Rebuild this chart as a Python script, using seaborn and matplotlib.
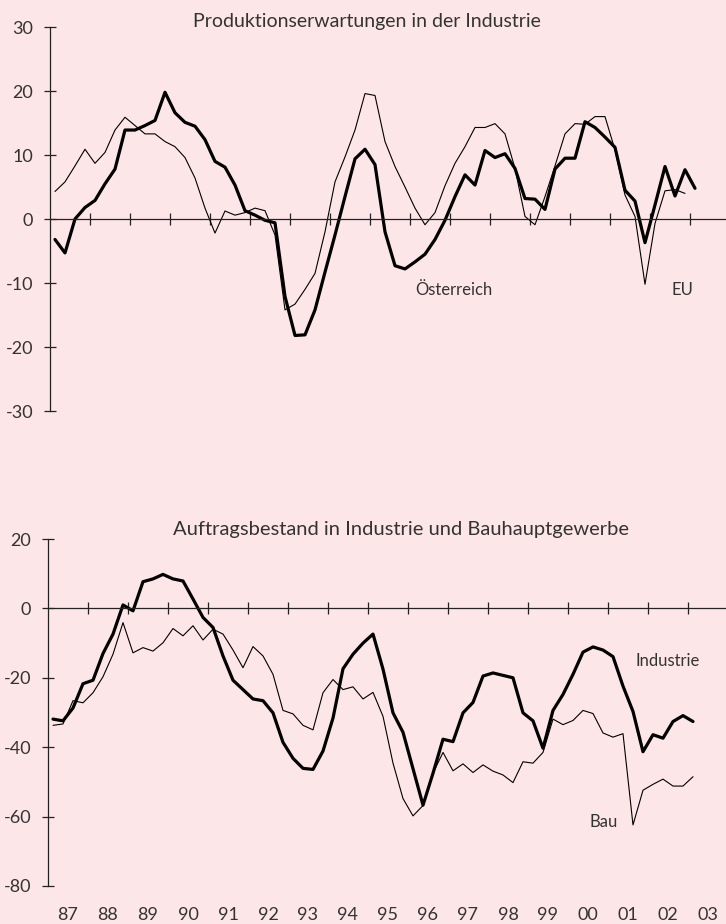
import numpy as np
import pandas as pd
import matplotlib
matplotlib.use("Agg")
import matplotlib.pyplot as plt
import matplotlib.transforms as mtrans
import seaborn as sns

# ---------------------------------------------
#  Daten (Quartalswerte ab 1987Q1)
# ---------------------------------------------
oesterreich = [
    -3.2, -5.3, 0.0, 1.8, 2.9, 5.5, 7.8, 13.9, 13.9, 14.6,
    15.4, 19.8, 16.6, 15.1, 14.5, 12.4, 9.0, 8.1, 5.3, 1.3,
    0.6, -0.2, -0.6, -12.1, -18.2, -18.1, -14.2, -8.3, -2.5, 3.5,
    9.4, 10.9, 8.5, -2.0, -7.3, -7.8, -6.7, -5.5, -3.2, -0.2,
    3.5, 6.9, 5.3, 10.7, 9.6, 10.2, 7.9, 3.2, 3.1, 1.5,
    7.8, 9.5, 9.5, 15.2, 14.3, 12.8, 11.2, 4.5, 2.8, -3.7,
    2.2, 8.2, 3.6, 7.7, 4.8,
]
eu = [
    4.3, 5.8, 8.3, 10.9, 8.7, 10.4, 13.9, 15.9, 14.6, 13.3,
    13.3, 12.1, 11.3, 9.6, 6.4, 1.7, -2.2, 1.25, 0.6, 1.0,
    1.7, 1.3, -2.5, -14.2, -13.3, -11.0, -8.5, -2.0, 5.8, 9.7,
    13.9, 19.6, 19.3, 12.1, 8.2, 5.0, 1.7, -0.9, 1.0, 5.2,
    8.7, 11.3, 14.3, 14.3, 14.9, 13.3, 7.9, 0.4, -0.9, 3.5,
    8.3, 13.3, 14.9, 14.8, 16.0, 16.0, 10.8, 3.75, 0.4, -10.2,
    -0.7, 4.4, 4.6, 4.0,
]
industrie = [
    -31.9, -32.4, -28.7, -21.7, -20.7, -13.0, -7.4, 1.0, -0.7, 7.7,
    8.5, 9.8, 8.5, 7.9, 2.7, -2.6, -5.5, -13.7, -20.7, -23.4,
    -26.1, -26.6, -30.1, -38.6, -43.2, -46.1, -46.4, -41.1, -31.6, -17.4,
    -13.2, -10.0, -7.4, -17.5, -30.1, -35.7, -46.2, -56.7, -47.5, -37.7,
    -38.4, -30.1, -27.1, -19.5, -18.6, -19.3, -20.0, -30.1, -32.4, -40.3,
    -29.4, -24.8, -19.0, -12.6, -11.1, -12.0, -13.9, -22.4, -29.7, -41.3,
    -36.4, -37.4, -32.6, -30.9, -32.6,
]
bau = [
    -33.7, -33.3, -26.6, -27.2, -24.3, -19.7, -13.2, -4.1, -12.8, -11.3,
    -12.3, -9.9, -5.8, -7.9, -5.0, -9.1, -6.0, -7.4, -12.0, -17.1,
    -11.0, -13.7, -19.0, -29.4, -30.4, -33.7, -35.0, -24.3, -20.5, -23.4,
    -22.6, -26.1, -24.2, -31.1, -44.6, -54.8, -59.8, -56.8, -47.5, -41.5,
    -46.8, -44.8, -47.3, -45.1, -46.9, -48.0, -50.2, -44.2, -44.6, -41.5,
    -31.9, -33.5, -32.3, -29.4, -30.3, -35.9, -37.1, -36.1, -62.4, -52.4,
    -50.7, -49.2, -51.2, -51.2, -48.5,
]
jahre = list(range(1987, 2004))
jahr_labels = ["87", "88", "89", "90", "91", "92", "93", "94", "95",
               "96", "97", "98", "99", "00", "01", "02", "03"]


def quartal_zeit(n):
    per = pd.period_range("1987Q1", periods=n, freq="Q")
    return per.year + (per.quarter - 0.5) / 4


df_prod = pd.DataFrame({"t": quartal_zeit(len(oesterreich)), "Österreich": oesterreich})
df_eu = pd.DataFrame({"t": quartal_zeit(len(eu)), "EU": eu})
df_auf = pd.DataFrame({"t": quartal_zeit(len(industrie)),
                       "Industrie": industrie, "Bau": bau})

ROSA = "#fde6e8"
TEXT = "#333333"
LINIE = "#222222"

sns.set_theme(style="white")
plt.rcParams.update({
    "font.family": ["Lato", "DejaVu Sans"],
    "axes.facecolor": ROSA,
    "figure.facecolor": ROSA,
    "text.color": TEXT,
    "xtick.color": TEXT,
    "ytick.color": TEXT,
    "axes.unicode_minus": False,
})

W, H = 726, 924
fig = plt.figure(figsize=(W / 100, H / 100), dpi=100)

ax1 = fig.add_axes([50 / W, (H - 411) / H, 676 / W, 384 / H])
ax2 = fig.add_axes([48 / W, (H - 886) / H, 678 / W, 347 / H])


def achsen_stil(ax, ylim, ystep, xmax):
    ax.set_xlim(1987, xmax)
    ax.set_ylim(*ylim)
    ax.set_xlabel("")
    ax.set_ylabel("")
    for s in ["top", "right"]:
        ax.spines[s].set_visible(False)
    ax.spines["bottom"].set_position(("data", 0))
    for s in ["bottom", "left"]:
        ax.spines[s].set_linewidth(0.9)
        ax.spines[s].set_color(LINIE)
    ax.set_xticks(jahre[1:])
    ax.set_xticklabels([])
    ax.set_yticks(np.arange(ylim[0], ylim[1] + 1, ystep))
    ax.tick_params(axis="x", bottom=True, direction="inout", length=8,
                   width=0.9, color=LINIE)
    ax.tick_params(axis="y", left=True, direction="inout", length=9,
                   width=0.9, color=LINIE, pad=7.5, labelsize=13)


# --- oben: Produktionserwartungen ---
sns.lineplot(data=df_eu, x="t", y="EU", ax=ax1, color="black", lw=0.8)
sns.lineplot(data=df_prod, x="t", y="Österreich", ax=ax1, color="black", lw=2.3)
achsen_stil(ax1, (-30, 30), 10, 1987 + 676 / 40)
ax1.text(1997.09, -11.1, "Österreich", ha="center", va="center", fontsize=12)
ax1.text(2002.82, -11.1, "EU", ha="center", va="center", fontsize=12)
fig.text(367 / W, 1 - 21 / H, "Produktionserwartungen in der Industrie",
         ha="center", va="center", fontsize=14)

# --- unten: Auftragsbestand ---
sns.lineplot(data=df_auf, x="t", y="Bau", ax=ax2, color="black", lw=0.8)
sns.lineplot(data=df_auf, x="t", y="Industrie", ax=ax2, color="black", lw=2.3)
achsen_stil(ax2, (-80, 20), 20, 1987 + 678 / 40)
ax2.text(2002.48, -15.3, "Industrie", ha="center", va="center", fontsize=12)
ax2.text(2000.9, -61.5, "Bau", ha="center", va="center", fontsize=12)
fig.text(401 / W, 1 - 529 / H, "Auftragsbestand in Industrie und Bauhauptgewerbe",
         ha="center", va="center", fontsize=14.5)

trans = mtrans.blended_transform_factory(ax2.transData, ax2.transAxes)
for j, lbl in zip(jahre, jahr_labels):
    ax2.text(j + 0.5, -0.084, lbl, transform=trans, ha="center", va="center",
             fontsize=13, clip_on=False)

fig.savefig("out.png", dpi=100, facecolor=ROSA)
